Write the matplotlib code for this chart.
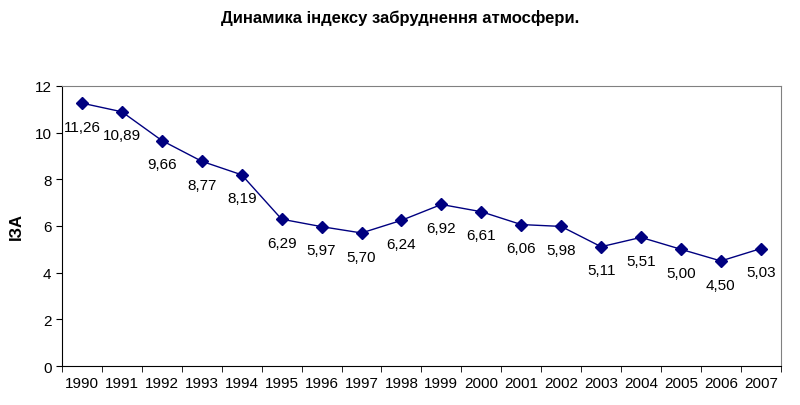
import matplotlib
matplotlib.use("Agg")
import matplotlib.pyplot as plt

plt.rcParams['font.family'] = ['Liberation Sans', 'DejaVu Sans']

years = [str(y) for y in range(1990, 2008)]
iza = [11.26, 10.89, 9.66, 8.77, 8.19, 6.29, 5.97, 5.70, 6.24, 6.92,
       6.61, 6.06, 5.98, 5.11, 5.51, 5.00, 4.50, 5.03]

fig = plt.figure(figsize=(8, 4.06), dpi=100)
ax = fig.add_axes([0.0775, 0.096, 0.8985, 0.69])

x = list(range(len(years)))
ax.plot(x, iza, color='#000080', marker='D', markersize=6, linewidth=1)

for xi, v in zip(x, iza):
    ax.annotate(f"{v:.2f}".replace('.', ','), (xi, v), xytext=(0, -17),
                textcoords='offset points', ha='center', va='center', fontsize=11)

ax.set_xlim(-0.5, len(years) - 0.5)
ax.set_ylim(0, 12)
ax.set_yticks(range(0, 13, 2))
ax.set_xticks(x)
ax.set_xticklabels(years, fontsize=11)
ax.set_xticks([i - 0.5 for i in range(len(years) + 1)], minor=True)
ax.tick_params(axis='x', which='major', length=0, pad=7)
ax.tick_params(axis='x', which='minor', length=4, direction='out', color='black')
ax.tick_params(axis='y', length=4, direction='out', labelsize=11)

for side in ['top', 'right']:
    ax.spines[side].set_color('#808080')
for side in ['left', 'bottom']:
    ax.spines[side].set_color('black')

ax.set_ylabel("ІЗА", fontsize=12, fontweight='bold', labelpad=8)
fig.text(0.5, 0.955, "Динамика індексу забруднення атмосфери.",
         ha='center', va='center', fontsize=12, fontweight='bold')

fig.savefig("out.png", dpi=100)
